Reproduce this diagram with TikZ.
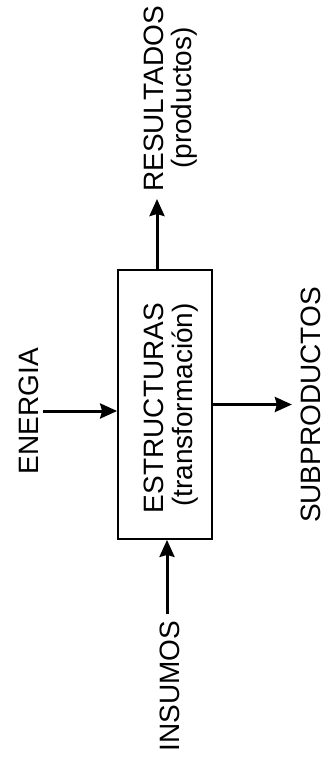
\documentclass[tikz,border=0pt]{standalone}
\usepackage{fontspec}
\setmainfont{Liberation Sans}
\usetikzlibrary{arrows.meta}
\begin{document}
\begin{tikzpicture}[x=1pt,y=1pt,
  lbl/.style={inner sep=0pt, rotate=90, font=\fontsize{28}{30}\selectfont},
  flow/.style={line width=3pt, -{Stealth[length=17pt,width=15pt,inset=2pt]}},
  block/.style={draw, line width=1.8pt, minimum width=94pt, minimum height=269pt, inner sep=0pt}]
  \useasboundingbox (0,0) rectangle (334,-764);

  % central transformation block
  \node[block] (box) at (165,-404.5) {};
  \node[lbl] (est) at (154,-408) {ESTRUCTURAS};
  \node[lbl] (trans) at (185,-405) {(transformación)};

  % outputs and inputs
  \node[lbl] (res) at (154,-99) {RESULTADOS};
  \node[lbl] (prod) at (184,-98) {(productos)};
  \node[lbl] (ene) at (29,-411) {ENERGIA};
  \node[lbl] (sub) at (311,-405) {SUBPRODUCTOS};
  \node[lbl] (ins) at (170,-686) {INSUMOS};

  % connectors
  \draw[flow, shorten >=7pt] ([xshift=-8pt]box.north) -- ([xshift=-8pt]box.north |- res.west);
  \draw[flow, shorten <=4pt] (ene.south) -- (ene.south -| box.west);
  \draw[flow, shorten >=9pt] (box.east) -- (box.east -| sub.north);
  \draw[flow, shorten <=6pt] ([xshift=-3pt]ins.east) -- ([xshift=-3pt]ins.east |- box.south);
\end{tikzpicture}
\end{document}
